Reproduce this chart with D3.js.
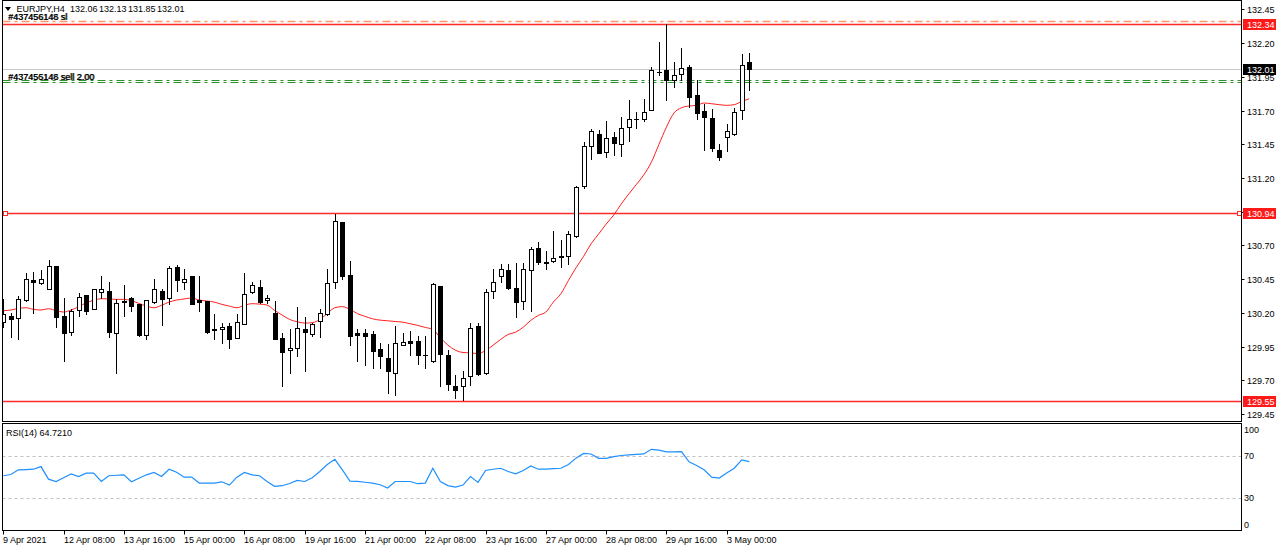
<!DOCTYPE html>
<html><head><meta charset="utf-8">
<script src="https://cdn.jsdelivr.net/npm/d3@7"></script>
<style>body{margin:0;background:#fff;overflow:hidden}text{font-family:"Liberation Sans",Arial,sans-serif;font-size:9px}</style>
</head><body><svg id="c" width="1280" height="550"></svg>
<script>
const symbolTitle = "EURJPY,H4";
const headerValues = ["132.06", "132.13", "131.85", "132.01"];
const timeLabels = ["9 Apr 2021","12 Apr 08:00","13 Apr 16:00","15 Apr 00:00","16 Apr 08:00","19 Apr 16:00","21 Apr 00:00","22 Apr 08:00","23 Apr 16:00","27 Apr 00:00","28 Apr 08:00","29 Apr 16:00","3 May 00:00"];
const barsPerLabel = 8;
const opens = [130.134,130.176,130.164,130.293,130.444,130.419,130.375,130.548,130.176,130.06,130.218,130.332,130.231,130.357,130.362,130.052,130.28,130.312,130.263,130.035,130.28,130.362,130.312,130.543,130.429,130.474,130.295,130.288,130.077,130.082,130.102,130.01,130.119,130.355,130.392,130.293,130.201,130.015,129.923,129.941,130.082,130.045,130.139,130.189,130.429,130.876,130.481,130.052,130.052,130.04,129.933,129.866,129.755,129.965,129.99,129.99,129.888,129.841,130.399,129.891,129.66,129.66,129.73,130.102,129.755,130.362,130.474,130.518,130.387,130.288,130.516,130.68,130.575,130.585,130.618,130.623,130.771,131.138,131.436,131.528,131.392,131.503,131.453,131.582,131.637,131.635,131.706,131.987,131.999,131.925,131.974,132.024,131.813,131.694,131.644,131.409,131.503,131.528,131.706,132.06];
const highs = [130.30,130.201,130.325,130.499,130.506,130.518,130.59,130.548,130.308,130.226,130.35,130.332,130.375,130.474,130.429,130.30,130.404,130.317,130.263,130.293,130.449,130.375,130.548,130.556,130.523,130.474,130.474,130.288,130.189,130.127,130.127,130.189,130.499,130.429,130.444,130.33,130.288,130.052,130.077,130.243,130.171,130.127,130.226,130.523,130.933,130.876,130.585,130.082,130.077,130.065,129.978,129.97,130.102,130.052,130.065,130.027,130.027,130.424,130.399,129.928,129.737,129.767,130.127,130.127,130.374,130.523,130.561,130.561,130.573,130.573,130.685,130.722,130.66,130.804,130.739,130.804,131.143,131.466,131.565,131.553,131.62,131.54,131.652,131.776,131.689,131.788,132.024,132.21,132.339,132.061,132.165,132.036,131.925,131.751,131.709,131.453,131.602,131.719,132.123,132.13];
const lows = [130.094,130.02,130.003,130.288,130.198,130.412,130.375,130.094,129.846,130.035,130.176,130.189,130.226,130.308,130.02,129.755,130.176,130.213,130.032,130.003,130.275,130.109,130.268,130.362,130.375,130.263,130.213,130.052,130.003,129.978,129.936,130.01,130.114,130.35,130.275,130.275,130.003,129.66,129.755,129.883,129.767,130.027,130.02,130.181,130.387,130.454,129.958,129.841,129.816,129.792,129.792,129.606,129.593,129.96,129.891,129.817,129.792,129.836,129.655,129.631,129.569,129.556,129.668,129.742,129.75,130.308,130.429,130.375,130.169,130.226,130.213,130.566,130.523,130.578,130.543,130.561,130.766,131.124,131.342,131.387,131.354,131.367,131.362,131.478,131.57,131.62,131.701,131.962,131.776,131.875,131.925,131.726,131.64,131.409,131.404,131.337,131.404,131.52,131.64,131.85];
const closes = [130.194,130.151,130.305,130.449,130.429,130.449,130.548,130.169,130.052,130.213,130.317,130.213,130.375,130.375,130.06,130.27,130.288,130.25,130.035,130.293,130.375,130.305,130.531,130.441,130.454,130.263,130.283,130.057,130.075,130.097,130.003,130.132,130.337,130.404,130.283,130.313,130.003,129.908,129.941,130.089,130.057,130.119,130.196,130.424,130.883,130.474,130.032,130.035,130.032,129.916,129.879,129.767,129.978,129.983,129.98,129.886,129.884,130.412,129.896,129.673,129.631,129.717,130.089,129.747,130.355,130.429,130.523,130.382,130.283,130.523,130.672,130.578,130.573,130.61,130.615,130.784,131.131,131.441,131.545,131.387,131.496,131.458,131.57,131.64,131.64,131.689,132.004,131.984,131.93,131.967,132.016,131.801,131.682,131.652,131.421,131.354,131.545,131.689,132.041,132.01];
const maValues = [130.216,130.221,130.233,130.238,130.226,130.221,130.231,130.216,130.206,130.221,130.245,130.275,130.293,130.305,130.303,130.300,130.300,130.290,130.270,130.250,130.238,130.256,130.280,130.295,130.303,130.310,130.295,130.288,130.280,130.263,130.250,130.238,130.256,130.268,130.265,130.258,130.218,130.184,130.151,130.134,130.124,130.127,130.151,130.196,130.238,130.246,130.226,130.194,130.174,130.156,130.146,130.141,130.136,130.131,130.119,130.107,130.092,130.077,130.015,129.961,129.923,129.906,129.903,129.898,129.921,129.960,130.003,130.040,130.057,130.094,130.144,130.181,130.206,130.280,130.342,130.440,130.534,130.618,130.712,130.784,130.858,130.925,131.007,131.081,131.151,131.223,131.317,131.448,131.577,131.682,131.721,131.734,131.739,131.756,131.751,131.744,131.739,131.744,131.768,131.788];
const rsiValues = [51.3,52.5,56.9,57.2,57.5,60,48.1,45.9,49.5,53.1,50.6,53.8,53.8,45.9,51.3,51.8,52.2,45.6,49,52.2,54.4,50.6,57.5,54.7,50,50,44.4,44.4,44.4,45.6,42.5,50,54.4,52.2,51.3,45.9,41.3,41.9,44,46.9,45.9,49.5,55.3,62,66.9,56.9,46.3,46,45.2,44.4,42.8,39.7,45.9,45.9,45.9,43.8,44.4,58.4,45.9,42,40.6,42.5,50.6,45,56.3,57.5,58.4,55.3,53.1,56.3,60.6,57.5,57.5,58,58.4,62,68,72.5,71.9,67.8,67.8,69.4,70.5,71,71.5,72,76.3,75.5,74,74,74.1,64.5,61,57,50,49.1,54,58.4,66.3,64.72];
const rsiLabel = "RSI(14) 64.7210";
const priceTicks = ["132.45","132.20","131.95","131.70","131.45","131.20","130.95","130.70","130.45","130.20","129.95","129.70","129.45"];
const rsiTicks = [100, 70, 30, 0];
const rsiLevels = [70, 30];
const supportResistance = [132.34, 130.94, 129.55];
const slLevel = 132.365;
const orderLevels = [131.93, 131.91];
const currentPrice = 132.01;
const slTexts = ["#437456148 sl", "#437456146 sl"];
const orderTexts = ["#437456148 sell 2.00", "#437455146 sell 2.00"];

const svg = d3.select("#c");
const W = 1280;
const left = 2.5, right = 1241.5;
const mainTop = 0.5, mainBot = 421.5, rsiTop = 423.5, rsiBot = 530.5;

const x = d3.scaleLinear().domain([0, opens.length - 1]).range([3.3, 749.3]);
const y = d3.scaleLinear().domain([129.55, 132.34]).range([400.5, 24.3]);
const yr = d3.scaleLinear().domain([0, 100]).range([530, 424.3]);

svg.append("rect").attr("width", W).attr("height", 550).attr("fill", "#fff");

svg.append("clipPath").attr("id", "mc").append("rect").attr("x", left).attr("y", 0).attr("width", right - left).attr("height", mainBot);
svg.append("clipPath").attr("id", "rc").append("rect").attr("x", left).attr("y", rsiTop).attr("width", right - left).attr("height", rsiBot - rsiTop);
const main = svg.append("g").attr("clip-path", "url(#mc)");
const rsiG = svg.append("g").attr("clip-path", "url(#rc)");

const py = p => Math.round(y(p)) + 0.5;

// horizontal lines
main.append("line").attr("x1", left).attr("x2", right).attr("y1", py(currentPrice)).attr("y2", py(currentPrice)).attr("stroke", "#c8c8c8");
main.append("line").attr("x1", left).attr("x2", right).attr("y1", py(slLevel)).attr("y2", py(slLevel)).attr("stroke", "#ff9466").attr("stroke-width", 1.4).attr("stroke-dasharray", "8,4,3,4");
orderLevels.forEach(l => main.append("line").attr("x1", left).attr("x2", right).attr("y1", py(l)).attr("y2", py(l)).attr("stroke", "#2a902a").attr("stroke-dasharray", "8,4,3,4"));
supportResistance.forEach(l => main.append("line").attr("x1", left).attr("x2", right).attr("y1", py(l)).attr("y2", py(l)).attr("stroke", "#ff2a2a").attr("stroke-width", 1.3));
[5.3, 1238.5].forEach(cx => main.append("rect").attr("x", Math.round(cx) - 2 + 0.5).attr("y", py(supportResistance[1]) - 2).attr("width", 4).attr("height", 4).attr("fill", "#fff").attr("stroke", "#ff2a2a"));

// MA line
main.append("path").datum(maValues).attr("fill", "none").attr("stroke", "#ff2020").attr("stroke-width", 1)
  .attr("d", d3.line().x((d, i) => x(i)).y(d => y(d)).curve(d3.curveMonotoneX));

// candles
opens.forEach((o, i) => {
  const c = closes[i], h = highs[i], l = lows[i];
  const cx = Math.round(x(i));
  main.append("line").attr("x1", cx + 0.5).attr("x2", cx + 0.5).attr("y1", Math.round(y(h))).attr("y2", Math.round(y(l)) + 1).attr("stroke", "#000");
  const top = Math.round(y(Math.max(o, c))), bot = Math.round(y(Math.min(o, c)));
  if (c >= o) {
    if (bot - top < 1) {
      main.append("line").attr("x1", cx - 2).attr("x2", cx + 3).attr("y1", top + 0.5).attr("y2", top + 0.5).attr("stroke", "#000");
    } else {
      main.append("rect").attr("x", cx - 2 + 0.5).attr("y", top + 0.5).attr("width", 4).attr("height", bot - top).attr("fill", "#fff").attr("stroke", "#000");
    }
  } else {
    main.append("rect").attr("x", cx - 2).attr("y", top).attr("width", 5).attr("height", Math.max(bot - top + 1, 1)).attr("fill", "#000");
  }
});

// texts in main
const hdr = svg.append("g");
hdr.append("path").attr("d", "M5,7 L11,7 L8,11 Z").attr("fill", "#000");
hdr.append("text").attr("x", 16.5).attr("y", 12).text(symbolTitle);
headerValues.forEach((v, i) => hdr.append("text").attr("x", 70 + i * 29).attr("y", 12).text(v));
slTexts.forEach((t, i) => svg.append("text").attr("x", 8 + i * 0.6).attr("y", 19.5).text(t));
orderTexts.forEach((t, i) => svg.append("text").attr("x", 8 + i * 0.6).attr("y", 79.5).text(t));

// frames
svg.append("rect").attr("x", left).attr("y", mainTop).attr("width", right - left).attr("height", mainBot - mainTop).attr("fill", "none").attr("stroke", "#000");
svg.append("rect").attr("x", left).attr("y", rsiTop).attr("width", right - left).attr("height", rsiBot - rsiTop).attr("fill", "none").attr("stroke", "#000");

// price axis
priceTicks.forEach(t => {
  const yy = py(+t);
  svg.append("line").attr("x1", right).attr("x2", right + 3).attr("y1", yy).attr("y2", yy).attr("stroke", "#000");
  svg.append("text").attr("x", 1247).attr("y", yy).attr("dy", "0.35em").text(t);
});
function boxLabel(p, fill, txt) {
  const yy = py(p);
  svg.append("rect").attr("x", 1243).attr("y", yy - 5.5).attr("width", 33).attr("height", 11).attr("fill", fill);
  svg.append("text").attr("x", 1247).attr("y", yy).attr("dy", "0.35em").attr("fill", "#fff").text(txt);
}
supportResistance.forEach(l => boxLabel(l, "#ff1a1a", l.toFixed(2)));
boxLabel(currentPrice, "#000", currentPrice.toFixed(2));

// RSI panel
rsiLevels.forEach(l => rsiG.append("line").attr("x1", left).attr("x2", right).attr("y1", Math.round(yr(l)) + 0.5).attr("y2", Math.round(yr(l)) + 0.5).attr("stroke", "#c0c0c0").attr("stroke-dasharray", "3,3"));
rsiG.append("path").datum(rsiValues).attr("fill", "none").attr("stroke", "#1e90ff").attr("stroke-width", 1.2)
  .attr("d", d3.line().x((d, i) => x(i)).y(d => yr(d)));
svg.append("text").attr("x", 6).attr("y", 435.5).text(rsiLabel);
const rsiLabelY = {100: 430, 70: yr(70), 30: yr(30), 0: 524.5};
rsiTicks.forEach(t => svg.append("text").attr("x", 1244).attr("y", rsiLabelY[t]).attr("dy", "0.35em").text(t));

// time axis
timeLabels.forEach((t, k) => {
  const cx = Math.round(x(k * barsPerLabel)) + 0.5;
  svg.append("line").attr("x1", cx).attr("x2", cx).attr("y1", rsiBot).attr("y2", rsiBot + 4).attr("stroke", "#000");
  svg.append("text").attr("x", cx - 0.5).attr("y", 542.5).text(t);
});
</script></body></html>
